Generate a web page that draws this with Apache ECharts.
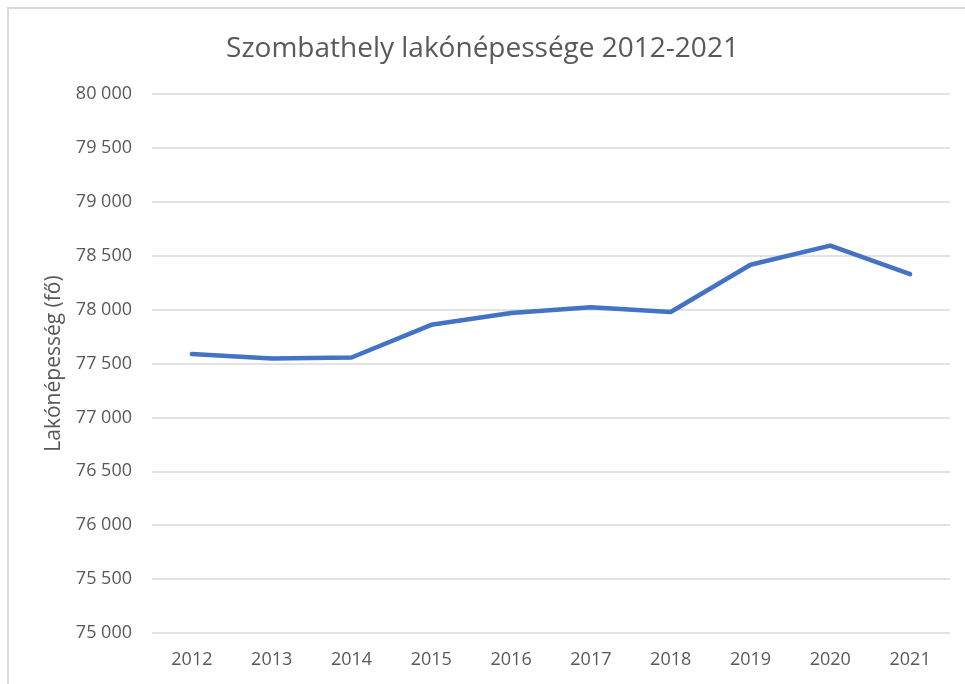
<!DOCTYPE html>
<html>
<head>
<meta charset="utf-8">
<script src="https://cdn.jsdelivr.net/npm/echarts@6/dist/echarts.min.js"></script>
<style>
    html, body { margin: 0; padding: 0; background: #fff; }
    #chart { width: 965px; height: 684px; }
</style>
</head>
<body>
<div id="chart"></div>
<script>
const years = ['2012', '2013', '2014', '2015', '2016', '2017', '2018', '2019', '2020', '2021'];
const population = [77587, 77547, 77556, 77859, 77969, 78022, 77978, 78416, 78594, 78328];

const yMin = 75000;
const yMax = 80000;
const yStep = 500;

const textColor = '#595959';
const gridColor = '#d9d9d9';
const fontFamily = '"Open Sans", "Noto Sans", sans-serif';

// 80000 -> "80 000"
function formatThousands(v) {
    return String(v).replace(/\B(?=(\d{3})+(?!\d))/g, ' ');
}

const chart = echarts.init(document.getElementById('chart'));

chart.setOption({
    backgroundColor: '#fff',
    animation: false,
    title: {
        text: 'Szombathely lakónépessége 2012-2021',
        left: 'center',
        top: 30,
        textStyle: {
            color: textColor,
            fontFamily: fontFamily,
            fontWeight: 'normal',
            fontSize: 28
        }
    },
    graphic: [
        {
            type: 'polyline',
            shape: { points: [[8, 684], [8, 8], [965, 8]] },
            style: { stroke: gridColor, lineWidth: 2, fill: null },
            silent: true
        }
    ],
    grid: {
        left: 152,
        right: 15,
        top: 94,
        bottom: 51
    },
    xAxis: {
        type: 'category',
        data: years,
        boundaryGap: true,
        axisLine: { show: false },
        axisTick: { show: false },
        axisLabel: {
            color: textColor,
            fontFamily: fontFamily,
            fontSize: 18,
            margin: 18
        }
    },
    yAxis: {
        type: 'value',
        min: yMin,
        max: yMax,
        interval: yStep,
        name: 'Lakónépesség (fő)',
        nameLocation: 'middle',
        nameGap: 84,
        nameTextStyle: {
            color: textColor,
            fontFamily: fontFamily,
            fontSize: 21
        },
        axisLine: { show: false },
        axisTick: { show: false },
        axisLabel: {
            color: textColor,
            fontFamily: fontFamily,
            fontSize: 18,
            margin: 20,
            formatter: formatThousands
        },
        splitLine: {
            lineStyle: { color: gridColor, width: 1.5 }
        }
    },
    series: [
        {
            name: 'Lakónépesség',
            type: 'line',
            data: population,
            showSymbol: false,
            lineStyle: {
                color: '#4472c4',
                width: 4.5,
                cap: 'round',
                join: 'round'
            }
        }
    ]
});
</script>
</body>
</html>
